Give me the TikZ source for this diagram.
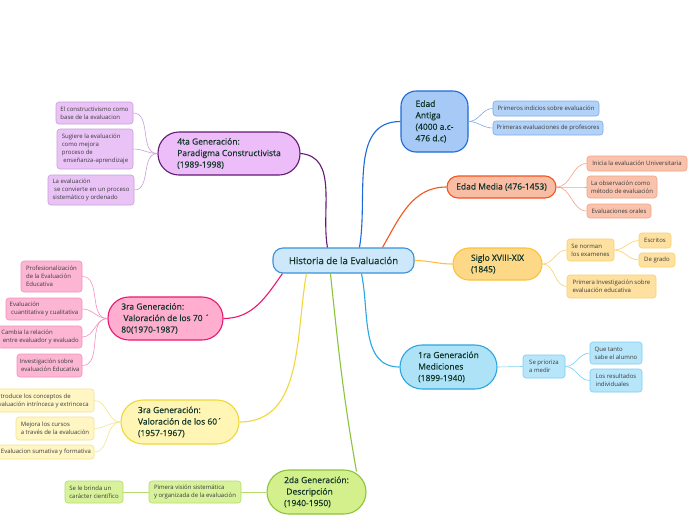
\documentclass[tikz,border=0pt]{standalone}
\usepackage{fontspec}
\setmainfont{Open Sans}
\newfontfamily\medfont{Open Sans}[FakeBold=0.5]
\usetikzlibrary{calc}
\definecolor{maintext}{HTML}{12362A}
\definecolor{subtext}{HTML}{3A3A3A}
% center
\definecolor{cF}{HTML}{CDE8FA}\definecolor{cD}{HTML}{3B92D8}
% edad antigua
\definecolor{aF}{HTML}{A6C9F5}\definecolor{aD}{HTML}{1C6AD8}\definecolor{aSF}{HTML}{B3D2F8}\definecolor{aSD}{HTML}{7EAAEC}
% edad media
\definecolor{mF}{HTML}{F9BCA4}\definecolor{mD}{HTML}{F2561D}\definecolor{mSF}{HTML}{F9C2AC}\definecolor{mSD}{HTML}{F6A186}
% siglo
\definecolor{sF}{HTML}{FDD886}\definecolor{sD}{HTML}{FBC23A}\definecolor{sSF}{HTML}{FEE1A0}\definecolor{sSD}{HTML}{FBD06C}
% 1ra
\definecolor{rF}{HTML}{AEE2F7}\definecolor{rD}{HTML}{2AA7E2}\definecolor{rSF}{HTML}{B7E6FA}\definecolor{rSD}{HTML}{7ACFF2}
% 2da
\definecolor{dF}{HTML}{D3F08C}\definecolor{dD}{HTML}{8CC43C}\definecolor{dSF}{HTML}{D8F29C}\definecolor{dSD}{HTML}{B4DC6A}
% 3ra 60
\definecolor{yF}{HTML}{FFF5B4}\definecolor{yD}{HTML}{F0D83A}\definecolor{ySF}{HTML}{FFF6C4}\definecolor{ySD}{HTML}{F4E48A}
% 3ra 70
\definecolor{pF}{HTML}{FFAED0}\definecolor{pD}{HTML}{E8196C}\definecolor{pSF}{HTML}{FCB6D3}\definecolor{pSD}{HTML}{F78FBB}
% 4ta
\definecolor{vF}{HTML}{ECBDF8}\definecolor{vD}{HTML}{631A73}\definecolor{vSF}{HTML}{EAC3F6}\definecolor{vSD}{HTML}{C99FD9}
\tikzset{
  mainbox/.style={draw, line width=1.1pt, align=left, inner sep=2pt, text=maintext,
    font=\medfont\fontsize{8.5}{11.5}\selectfont},
  subbox/.style={draw, line width=0.6pt, rounded corners=3pt, align=left, inner sep=1.5pt,
    text=subtext, font=\fontsize{6}{8}\selectfont},
  conn/.style={line width=1.1pt},
  subconn/.style={line width=0.6pt},
}
\begin{document}
\begin{tikzpicture}[x=1pt,y=1pt]
\useasboundingbox (0,0) rectangle (696,-520);
\fill[white] (0,0) rectangle (696,-520);

% ---------- main nodes ----------
\node[mainbox, fill=cF, draw=cD, rounded corners=10pt, minimum width=141pt, minimum height=25pt,
  font=\medfont\fontsize{9.6}{11}\selectfont] (c) at (343.5,-260.5) {Historia de la Evaluación};
\node[mainbox, fill=aF, draw=aD, rounded corners=15pt, minimum width=67pt, minimum height=61pt] (ea) at (434.5,-121.5)
  {Edad\\Antiga\\(4000 a.c-\\476 d.c)};
\node[mainbox, fill=mF, draw=mD, rounded corners=11pt, minimum width=109pt, minimum height=22pt] (em) at (501.5,-187)
  {Edad Media (476-1453)};
\node[mainbox, fill=sF, draw=sD, rounded corners=16pt, minimum width=89pt, minimum height=32pt] (sx) at (497.5,-264)
  {Siglo XVIII-XIX\\(1845)};
\node[mainbox, fill=rF, draw=rD, rounded corners=22pt, minimum width=97pt, minimum height=44pt] (g1) at (448.5,-367)
  {1ra Generación\\Mediciones\\(1899-1940)};
\node[mainbox, fill=dF, draw=dD, rounded corners=22pt, minimum width=99pt, minimum height=44pt] (g2) at (316.5,-492)
  {2da Generación:\\\ Descripción\\(1940-1950)};
\node[mainbox, fill=yF, draw=yD, rounded corners=22pt, minimum width=118pt, minimum height=44pt] (g60) at (180,-422)
  {3ra Generación:\\Valoración de los 60´\\(1957-1967)};
\node[mainbox, fill=pF, draw=pD, rounded corners=21pt, minimum width=115pt, minimum height=43pt] (g70) at (165.5,-318.5)
  {3ra Generación:\\\ Valoración de los 70 ´\\80(1970-1987)};
\node[mainbox, fill=vF, draw=vD, rounded corners=21pt, minimum width=142pt, minimum height=43pt] (g4) at (229,-153.5)
  {4ta Generación:\\Paradigma Constructivista\\(1989-1998)};

% ---------- sub nodes ----------
\node[subbox, fill=aSF, draw=aSD, minimum width=106pt, minimum height=15pt] (a1) at (546,-108.5) {Primeros indicios sobre evaluación};
\node[subbox, fill=aSF, draw=aSD, minimum width=110pt, minimum height=14pt] (a2) at (548,-128) {Primeras evaluaciones de profesores};

\node[subbox, fill=mSF, draw=mSD, minimum width=100pt, minimum height=15pt] (m1) at (637,-163.5) {Inicia la evaluación Universitaria};
\node[subbox, fill=mSF, draw=mSD, minimum width=70pt, minimum height=22pt] (m2) at (622,-187) {La observación como\\método de evaluación};
\node[subbox, fill=mSF, draw=mSD, minimum width=64pt, minimum height=14pt] (m3) at (619,-211) {Evaluaciones orales};

\node[subbox, fill=sSF, draw=sSD, minimum width=47pt, minimum height=22pt] (s1) at (590.5,-250) {Se norman\\los examenes};
\node[subbox, fill=sSF, draw=sSD, minimum width=32pt, minimum height=15pt] (s2) at (655,-240.5) {Escritos};
\node[subbox, fill=sSF, draw=sSD, minimum width=36pt, minimum height=14pt] (s3) at (657,-260) {De grado};
\node[subbox, fill=sSF, draw=sSD, minimum width=89pt, minimum height=23pt] (s4) at (611.5,-286.5) {Primera Investigación sobre\\evaluación educativa};

\node[subbox, fill=rSF, draw=rSD, minimum width=42pt, minimum height=23pt] (r1) at (544,-366.5) {Se prioriza\\a medir};
\node[subbox, fill=rSF, draw=rSD, minimum width=52pt, minimum height=22pt] (r2) at (616,-353) {Que tanto\\sabe el alumno};
\node[subbox, fill=rSF, draw=rSD, minimum width=52pt, minimum height=23pt] (r3) at (616,-380.5) {Los resultados\\individuales};

\node[subbox, fill=dSF, draw=dSD, minimum width=92pt, minimum height=22pt] (d1) at (195,-492) {Pimera visión sistemática\\y organizada de la evaluación};
\node[subbox, fill=dSF, draw=dSD, minimum width=58pt, minimum height=22pt] (d2) at (94,-492) {Se le brinda un\\carácter científico};

\node[subbox, fill=ySF, draw=ySD, minimum width=104pt, minimum height=23pt] (y1) at (42,-400.5) {Introduce los conceptos de\\evaluación intrínceca y extrinceca};
\node[subbox, fill=ySF, draw=ySD, minimum width=78pt, minimum height=23pt] (y2) at (55,-428.5) {Mejora los cursos\\a través de la evaluación};
\node[subbox, fill=ySF, draw=ySD, minimum width=96pt, minimum height=14pt] (y3) at (46,-452) {Evaluacion sumativa y formativa};

\node[subbox, fill=pSF, draw=pSD, minimum width=61pt, minimum height=31pt] (p1) at (51.5,-276.5) {Profesionalización\\de la Evaluación\\Educativa};
\node[subbox, fill=pSF, draw=pSD, minimum width=76pt, minimum height=22pt] (p2) at (44,-309) {Evaluación\\\ cuantitativa y cualitativa};
\node[subbox, fill=pSF, draw=pSD, minimum width=84pt, minimum height=22pt] (p3) at (40,-337) {Cambia la relación\\\ entre evaluador y evaluado};
\node[subbox, fill=pSF, draw=pSD, minimum width=65pt, minimum height=23pt] (p4) at (49.5,-365.5) {Investigación sobre\\\ evaluación Educativa};

\node[subbox, fill=vSF, draw=vSD, minimum width=77pt, minimum height=22pt] (v1) at (94.5,-113) {El constructivismo como\\base de la evaluacion};
\node[subbox, fill=vSF, draw=vSD, minimum width=76pt, minimum height=40pt] (v2) at (95,-149) {Sugiere la evaluación\\como mejora\\proceso de\\\ enseñanza-aprendizaje};
\node[subbox, fill=vSF, draw=vSD, minimum width=86pt, minimum height=30pt] (v3) at (91,-190) {La evaluación\\\ se convierte en un proceso\\sistemático y ordenado};

% ---------- main connectors ----------
\draw[conn, draw=vD] (g4.east) to[out=-5,in=100] ($(c.north west)+(55,0)$);
\draw[conn, draw=aD] ($(c.north west)+(87,0)$) to[out=80,in=180] (ea.west);
\draw[conn, draw=mD] ($(c.north west)+(110,0)$) to[out=60,in=180] (em.west);
\draw[conn, draw=sD] (c.east) to[out=0,in=180] (sx.west);
\draw[conn, draw=rD] ($(c.south west)+(89,0)$) to[out=-78,in=180] (g1.west);
\draw[conn, draw=dD] ($(c.south west)+(58,0)$) to[out=-84,in=100] ($(g2.north)+(40,-2)$);
\draw[conn, draw=yD] ($(c.south west)+(34,0)$) to[out=-100,in=0] (g60.east);
\draw[conn, draw=pD] ($(c.south west)+(10,0)$) to[out=-125,in=0] (g70.east);

% ---------- sub connectors ----------
\foreach \t in {a1,a2} \draw[subconn, draw=aSD] (ea.east) to[out=0,in=180] (\t.west);
\foreach \t in {m1,m2,m3} \draw[subconn, draw=mSD] (em.east) to[out=0,in=180] (\t.west);
\foreach \t in {s1,s4} \draw[subconn, draw=sSD] (sx.east) to[out=0,in=180] (\t.west);
\foreach \t in {s2,s3} \draw[subconn, draw=sSD] (s1.east) to[out=0,in=180] (\t.west);
\draw[subconn, draw=rSD] (g1.east) -- (r1.west);
\foreach \t in {r2,r3} \draw[subconn, draw=rSD] (r1.east) to[out=0,in=180] (\t.west);
\draw[subconn, draw=dSD] (g2.west) -- (d1.east);
\draw[subconn, draw=dSD] (d1.west) -- (d2.east);
\foreach \t in {y1,y2,y3} \draw[subconn, draw=ySD] (g60.west) to[out=180,in=0] (\t.east);
\foreach \t in {p1,p2,p3,p4} \draw[subconn, draw=pSD] (g70.west) to[out=180,in=0] (\t.east);
\foreach \t in {v1,v2,v3} \draw[subconn, draw=vSD] (g4.west) to[out=180,in=0] (\t.east);
\end{tikzpicture}
\end{document}
